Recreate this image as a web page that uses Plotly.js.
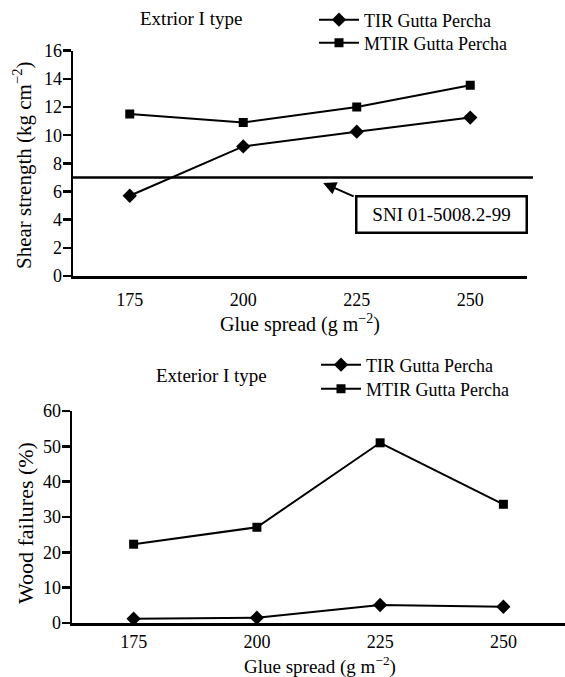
<!DOCTYPE html>
<html>
<head>
<meta charset="utf-8">
<script src="https://cdn.plot.ly/plotly-3.0.1.min.js"></script>
<style>html,body{margin:0;padding:0;background:#fff}#chart{width:565px;height:677px}</style>
</head>
<body>
<div id="chart"></div>
<script>
// Data
var glueSpread = [175, 200, 225, 250];
var shearTIR = [5.7, 9.2, 10.25, 11.25];
var shearMTIR = [11.5, 10.9, 12.0, 13.55];
var woodTIR = [1.2, 1.5, 5.1, 4.6];
var woodMTIR = [22.3, 27.1, 51.0, 33.6];
var sniStandard = 7;
var seriesNames = ['TIR Gutta Percha', 'MTIR Gutta Percha'];
var xTickLabels = ['175', '200', '225', '250'];
var xTickMarks = [162.5, 187.5, 212.5, 237.5, 262.5];
var shearTicks = [0, 2, 4, 6, 8, 10, 12, 14, 16];
var woodTicks = [0, 10, 20, 30, 40, 50, 60];

var W = 565, H = 677;
function px(x) { return x / W; }
function py(y) { return 1 - y / H; }

var FONT = 'Liberation Serif, Times New Roman, serif';
var lineW = 2;

var traces = [
  {x: glueSpread, y: shearTIR, name: seriesNames[0], type: 'scatter', mode: 'lines+markers',
   xaxis: 'x', yaxis: 'y', legend: 'legend',
   line: {color: '#000', width: lineW}, marker: {symbol: 'diamond', size: 11, color: '#000'}},
  {x: glueSpread, y: shearMTIR, name: seriesNames[1], type: 'scatter', mode: 'lines+markers',
   xaxis: 'x', yaxis: 'y', legend: 'legend2',
   line: {color: '#000', width: lineW}, marker: {symbol: 'square', size: 9, color: '#000'}},
  {x: glueSpread, y: woodTIR, name: seriesNames[0], type: 'scatter', mode: 'lines+markers',
   xaxis: 'x2', yaxis: 'y2', legend: 'legend3',
   line: {color: '#000', width: lineW}, marker: {symbol: 'diamond', size: 11, color: '#000'}},
  {x: glueSpread, y: woodMTIR, name: seriesNames[1], type: 'scatter', mode: 'lines+markers',
   xaxis: 'x2', yaxis: 'y2', legend: 'legend4',
   line: {color: '#000', width: lineW}, marker: {symbol: 'square', size: 9, color: '#000'}}
];

var tickFont = {family: FONT, size: 18, color: '#000'};
var axW = 2.5;

function labelAxis(dom, anchor, range, standoff) {
  return {domain: dom, anchor: anchor, range: range, tickmode: 'array',
    tickvals: glueSpread, ticktext: xTickLabels, ticks: 'outside', ticklen: standoff,
    tickcolor: 'rgba(0,0,0,0)', showline: true, linecolor: '#000', linewidth: axW,
    showgrid: false, zeroline: false, tickfont: tickFont, fixedrange: true};
}
function tickAxis(dom, anchor, range, over) {
  return {domain: dom, anchor: anchor, range: range, overlaying: over, tickmode: 'array',
    tickvals: xTickMarks, ticks: 'outside', ticklen: 8, tickwidth: axW, tickcolor: '#000',
    showticklabels: false, showline: false, showgrid: false, zeroline: false, fixedrange: true};
}
function legendAt(x, y) {
  return {x: px(x), y: py(y), xanchor: 'left', yanchor: 'middle', bgcolor: 'rgba(0,0,0,0)',
    font: {family: FONT, size: 18, color: '#000'}, itemwidth: 40};
}
function note(x, y, text, size, angle) {
  return {xref: 'paper', yref: 'paper', x: px(x), y: py(y), xanchor: 'center', yanchor: 'middle',
    text: text, showarrow: false, textangle: angle || 0,
    font: {family: FONT, size: size, color: '#000'}};
}

var topX = [px(73), px(527)];
var topY = [py(276), py(50.7)];
var botX = [px(72), 1];
var botY = [py(623), py(411)];
var xRange = [162.5, 262.5];

var layout = {
  width: W, height: H,
  margin: {l: 0, r: 0, t: 0, b: 0},
  paper_bgcolor: '#fff', plot_bgcolor: 'rgba(0,0,0,0)',
  font: {family: FONT, color: '#000'},
  showlegend: true,
  xaxis: labelAxis(topX, 'y', xRange, 6),
  xaxis3: tickAxis(topX, 'y', xRange, 'x'),
  yaxis: {domain: topY, anchor: 'x', range: [0, 16], tickmode: 'array', tickvals: shearTicks,
    ticks: 'outside', ticklen: 8, tickwidth: axW, tickcolor: '#000', showline: true,
    linecolor: '#000', linewidth: axW, showgrid: false, zeroline: false, tickfont: tickFont,
    ticklabelstandoff: -3, fixedrange: true},
  xaxis2: labelAxis(botX, 'y2', xRange, 1),
  xaxis4: tickAxis(botX, 'y2', xRange, 'x2'),
  yaxis2: {domain: botY, anchor: 'x2', range: [0, 60], tickmode: 'array', tickvals: woodTicks,
    ticks: 'outside', ticklen: 8, tickwidth: axW, tickcolor: '#000', showline: true,
    linecolor: '#000', linewidth: axW, showgrid: false, zeroline: false, tickfont: tickFont,
    ticklabelstandoff: -3, fixedrange: true},
  legend: legendAt(314, 20),
  legend2: legendAt(314, 43),
  legend3: legendAt(316, 365),
  legend4: legendAt(316, 389),
  shapes: [
    {type: 'line', xref: 'paper', yref: 'y', x0: px(73), x1: px(533), y0: sniStandard, y1: sniStandard,
     line: {color: '#000', width: 2.5}}
  ],
  annotations: [
    note(191, 19, 'Extrior I type', 19),
    note(211, 375, 'Exterior I type', 19),
    note(300, 324, 'Glue spread (g m<sup>\u22122</sup>)', 20),
    note(320, 665, 'Glue spread (g m<sup>\u22122</sup>)', 19),
    note(23, 165, 'Shear strength (kg cm<sup>\u22122</sup>)', 21, -90),
    note(25, 523, 'Wood failures (%)', 22, -90),
    // SNI box
    {xref: 'x', yref: 'y', x: 243.7, y: 4.4, text: 'SNI 01-5008.2-99', showarrow: false,
     xanchor: 'center', yanchor: 'middle',
     width: 160, height: 26, borderpad: 4, borderwidth: 2.5, bordercolor: '#000', bgcolor: '#fff',
     font: {family: FONT, size: 19, color: '#000'}},
    // arrow to the standard line
    {xref: 'x', yref: 'y', x: 217.6, y: 6.6, ax: 32, ay: 14, text: '', showarrow: true,
     arrowhead: 2, arrowsize: 1.3, arrowwidth: 2, arrowcolor: '#000', standoff: 0}
  ]
};

Plotly.newPlot('chart', traces, layout, {displayModeBar: false, staticPlot: true});
</script>
</body>
</html>
